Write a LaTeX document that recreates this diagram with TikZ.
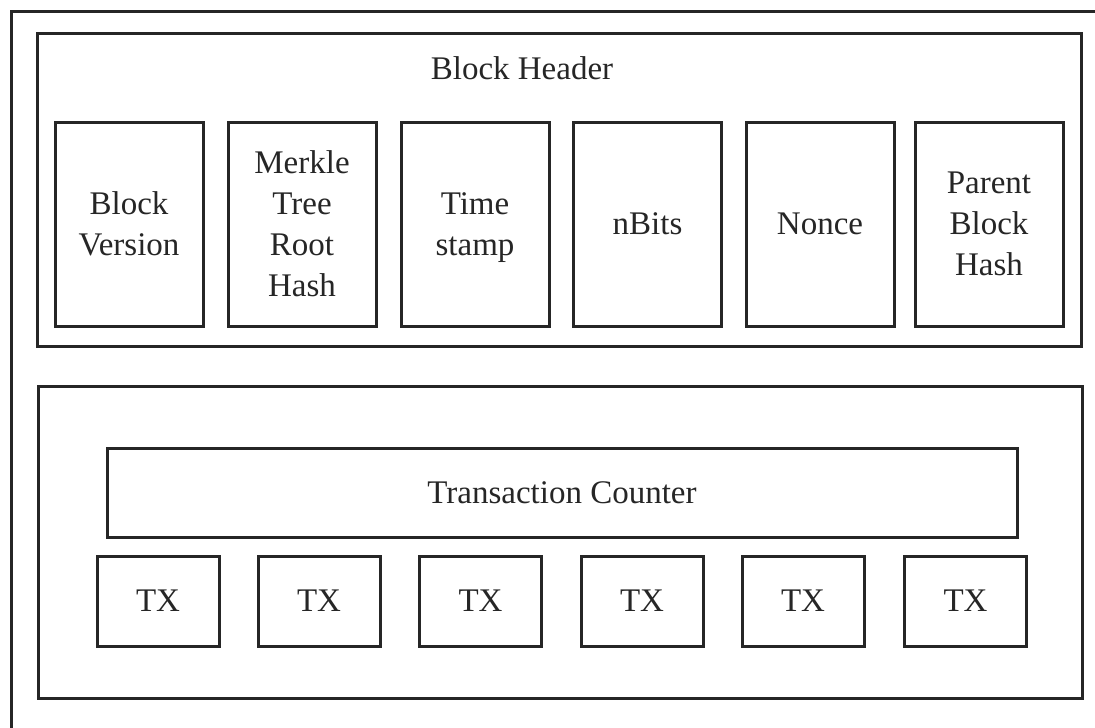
\documentclass[tikz,border=0pt]{standalone}
\usepackage{fontspec}
\setmainfont{Liberation Serif}
\begin{document}
\begin{tikzpicture}[x=1pt,y=-1pt,
  frame/.style={draw=black!85, line width=3pt, inner sep=0pt, fill=white},
  field/.style={frame, align=center, font=\fontsize{33}{41}\selectfont, text=black!85},
  fld/.style={field, minimum width=148pt, minimum height=204pt},
  txbox/.style={field, minimum width=122pt, minimum height=90pt}]
\useasboundingbox (0,0) rectangle (1095,728);
\fill[white] (0,0) rectangle (1095,728);
\coordinate (ftr) at (1095,11);
\coordinate (ftl) at (11,11);
\coordinate (fbl) at (11,728);
\draw[black!85, line width=3pt] (ftr) -- (ftl) -- (fbl);
% header container
\node[frame, minimum width=1044pt, minimum height=313pt] (hdr) at (559,189.5) {};
\node[font=\fontsize{33}{41}\selectfont, text=black!85, anchor=base, inner sep=0pt] (hdrt) at (522,79) {Block Header};
\node[fld] (f1) at (129,224) {Block\\Version};
\node[fld] (f2) at (302,224) {Merkle\\Tree\\Root\\Hash};
\node[fld, text depth=0pt] (f3) at (475,224) {Time\\stamp\vphantom{T}};
\node[fld] (f4) at (647.5,224) {nBits};
\node[fld] (f5) at (820,224) {Nonce};
\node[fld] (f6) at (989,224) {Parent\\Block\\Hash};
% body container
\node[frame, minimum width=1044pt, minimum height=312pt] (body) at (560,542) {};
\node[field, minimum width=910pt, minimum height=89pt] (tc) at (562,492.5) {Transaction Counter};
\node[txbox] (tx1) at (158,601) {TX};
\node[txbox] (tx2) at (319,601) {TX};
\node[txbox] (tx3) at (480.5,601) {TX};
\node[txbox] (tx4) at (642,601) {TX};
\node[txbox] (tx5) at (803,601) {TX};
\node[txbox] (tx6) at (965.5,601) {TX};
\end{tikzpicture}
\end{document}
